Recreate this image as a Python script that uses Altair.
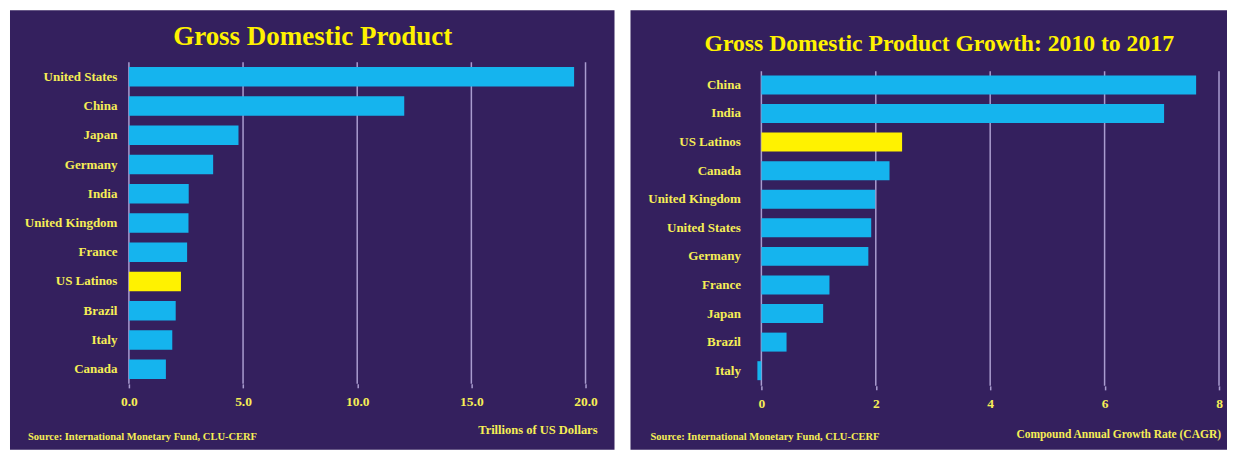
import altair as alt
import pandas as pd

# ---------------- data ----------------
gdp_title = "Gross Domestic Product"
gdp_countries = ["United States", "China", "Japan", "Germany", "India", "United Kingdom",
                 "France", "US Latinos", "Brazil", "Italy", "Canada"]
gdp_values = [19.5, 12.06, 4.8, 3.69, 2.62, 2.61, 2.55, 2.28, 2.05, 1.9, 1.62]
gdp_ticks = [0, 5, 10, 15, 20]
gdp_unit = "Trillions of US Dollars"

growth_title = "Gross Domestic Product Growth: 2010 to 2017"
growth_countries = ["China", "India", "US Latinos", "Canada", "United Kingdom", "United States",
                    "Germany", "France", "Japan", "Brazil", "Italy"]
growth_values = [7.6, 7.04, 2.46, 2.24, 1.99, 1.92, 1.87, 1.19, 1.08, 0.44, -0.07]
growth_ticks = [0, 2, 4, 6, 8]
growth_unit = "Compound Annual Growth Rate (CAGR)"

source = "Source: International Monetary Fund, CLU-CERF"
highlight = "US Latinos"

# ---------------- style ----------------
BG = "#34205e"
BLUE = "#15b4ee"
YELLOW = "#fff200"
TXT = "#f6ee55"
GRID = "#a99ccf"
FONT = "Liberation Serif"


def panel(countries, values, ticks, fmt, title, unit, width, height,
          lab_pad, band, bg_box, grid_top, title_pos, src_pos, unit_pos):
    df = pd.DataFrame({"country": countries, "value": values})
    tdf = pd.DataFrame({"v": ticks})
    xscale = alt.Scale(domain=[ticks[0], ticks[-1]], nice=False, zero=True)
    xaxis = alt.Axis(values=ticks, format=fmt, title="", grid=False, domain=False,
                     ticks=True, tickColor=GRID, tickSize=4, tickWidth=1.5,
                     labelColor=TXT, labelFont=FONT, labelFontSize=13.5,
                     labelFontWeight="bold", labelPadding=7, labelFlush=False,
                     zindex=1)
    yaxis = alt.Axis(title="", domain=False, ticks=False, grid=False,
                     labelColor=TXT, labelFont=FONT, labelFontSize=13,
                     labelFontWeight="bold", labelPadding=lab_pad,
                     labelLimit=250, zindex=1)

    x0, x1, y0, y1 = bg_box
    bg = alt.Chart(pd.DataFrame({"k": [0]})).mark_rect(color=BG).encode(
        x=alt.value(x0), x2=alt.value(x1), y=alt.value(y0), y2=alt.value(y1))

    rules = alt.Chart(tdf).mark_rule(color=GRID, strokeWidth=1.5).encode(
        x=alt.X("v:Q", scale=xscale, axis=xaxis),
        y=alt.value(grid_top), y2=alt.value(height))

    bars = alt.Chart(df).mark_bar().encode(
        x=alt.X("value:Q", scale=xscale, axis=xaxis),
        y=alt.Y("country:N", sort=countries, axis=yaxis,
                scale=alt.Scale(paddingInner=band[0], paddingOuter=band[1], align=band[2])),
        color=alt.condition(alt.datum.country == highlight,
                            alt.value(YELLOW), alt.value(BLUE)),
    )

    ttl = alt.Chart(pd.DataFrame({"t": [title]})).mark_text(
        font=FONT, fontSize=title_pos[2], fontWeight="bold", color=YELLOW,
        align="center", baseline="middle").encode(
        x=alt.value(title_pos[0]), y=alt.value(title_pos[1]), text="t:N")

    src = alt.Chart(pd.DataFrame({"t": [source]})).mark_text(
        font=FONT, fontSize=10.5, fontWeight="bold", color=TXT,
        align="left", baseline="middle").encode(
        x=alt.value(src_pos[0]), y=alt.value(src_pos[1]), text="t:N")

    un = alt.Chart(pd.DataFrame({"t": [unit]})).mark_text(
        font=FONT, fontSize=unit_pos[2], fontWeight="bold", color=TXT,
        align="right", baseline="middle").encode(
        x=alt.value(unit_pos[0]), y=alt.value(unit_pos[1]), text="t:N")

    return alt.layer(bg, rules, bars, ttl, src, un).properties(width=width, height=height)


left = panel(gdp_countries, gdp_values, gdp_ticks, ".1f", gdp_title, gdp_unit,
             width=457, height=322, lab_pad=12, band=(0.34, 0.17, 0.5),
             bg_box=(-119, 486, -52, 388), grid_top=0,
             title_pos=(184, -25, 27), src_pos=(-101, 375), unit_pos=(469, 368, 12.5))

right = panel(growth_countries, growth_values, growth_ticks, "d", growth_title, growth_unit,
              width=458, height=324, lab_pad=21, band=(0.336, 0.3325, 0.7),
              bg_box=(-131, 466, -52, 388), grid_top=9,
              title_pos=(178, -18, 23.7), src_pos=(-111, 375), unit_pos=(460, 373, 11.5))

chart = alt.hconcat(left, right, spacing=16).properties(
    padding={"left": 2, "top": 2, "right": 0, "bottom": 0},
    background="white",
).configure_view(strokeWidth=0)

chart.save("out.html", embed_options={"renderer": "svg", "actions": False})
